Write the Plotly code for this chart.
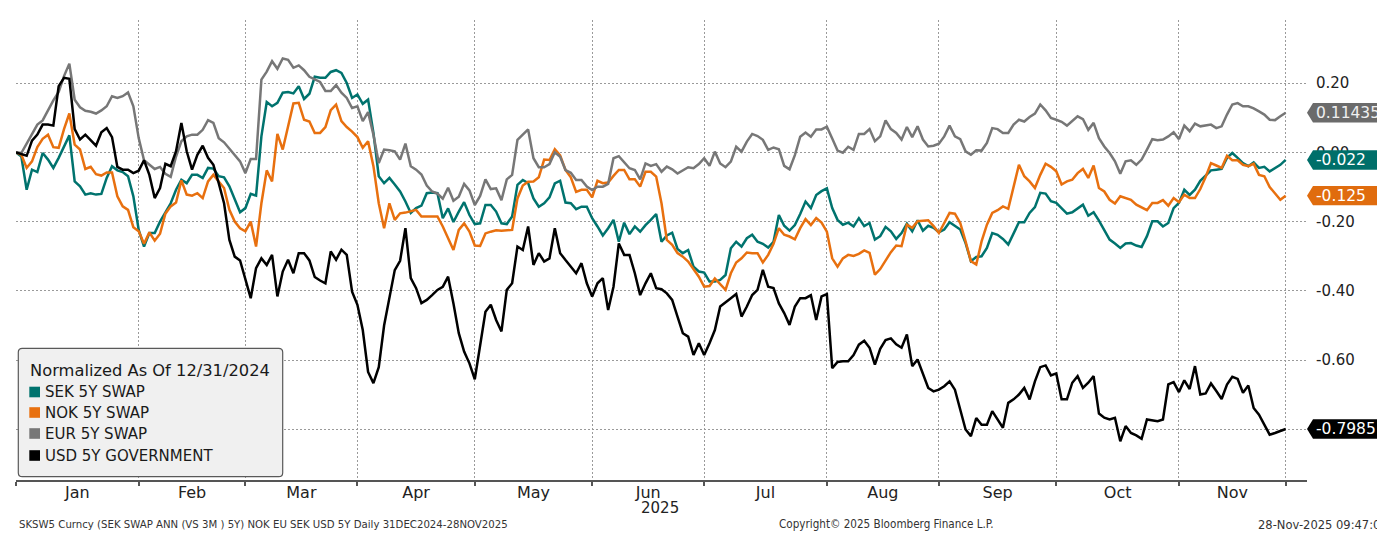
import numpy as np
import pandas as pd
import plotly.graph_objects as go

# ---------------- data (normalized change vs 31-Dec-2024, business days) ----------------
dates = pd.bdate_range("2024-12-31", "2025-11-28")

sek_5y_swap = [
    0.000, -0.012, -0.108, -0.050, -0.057, -0.002, -0.021, -0.045, -0.016, 0.017,
    0.049, -0.084, -0.098, -0.122, -0.118, -0.122, -0.120, -0.074, -0.040, -0.052,
    -0.057, -0.069, -0.127, -0.224, -0.272, -0.233, -0.233, -0.200, -0.175, -0.147,
    -0.108, -0.079, -0.089, -0.065, -0.065, -0.074, -0.045, -0.047, -0.069, -0.072,
    -0.098, -0.137, -0.173, -0.161, -0.120, -0.125, 0.046, 0.145, 0.133, 0.143,
    0.172, 0.174, 0.170, 0.191, 0.154, 0.169, 0.218, 0.215, 0.215, 0.232,
    0.237, 0.229, 0.200, 0.157, 0.167, 0.140, 0.152, 0.056, -0.069, -0.089,
    -0.074, -0.093, -0.113, -0.142, -0.175, -0.161, -0.154, -0.118, -0.116, -0.118,
    -0.190, -0.162, -0.201, -0.171, -0.144, -0.181, -0.207, -0.205, -0.152, -0.152,
    -0.171, -0.205, -0.207, -0.185, -0.094, -0.080, -0.089, -0.133, -0.157, -0.147,
    -0.130, -0.090, -0.082, -0.145, -0.147, -0.164, -0.157, -0.157, -0.190, -0.214,
    -0.240, -0.219, -0.195, -0.258, -0.203, -0.236, -0.214, -0.229, -0.210, -0.195,
    -0.178, -0.258, -0.240, -0.232, -0.279, -0.291, -0.282, -0.330, -0.344, -0.347,
    -0.373, -0.373, -0.368, -0.354, -0.277, -0.258, -0.272, -0.248, -0.238, -0.258,
    -0.264, -0.275, -0.258, -0.181, -0.212, -0.226, -0.210, -0.178, -0.142, -0.161,
    -0.123, -0.112, -0.104, -0.161, -0.195, -0.209, -0.203, -0.214, -0.190,
    -0.213, -0.204, -0.252, -0.242, -0.215, -0.228, -0.250, -0.233, -0.206, -0.228,
    -0.196, -0.226, -0.212, -0.218, -0.231, -0.223, -0.202, -0.213, -0.223, -0.262,
    -0.314, -0.302, -0.300, -0.276, -0.233, -0.238, -0.250, -0.266, -0.233, -0.202,
    -0.202, -0.175, -0.158, -0.117, -0.119, -0.141, -0.146, -0.161, -0.177, -0.173,
    -0.161, -0.151, -0.183, -0.173, -0.197, -0.223, -0.252, -0.263, -0.276, -0.263,
    -0.262, -0.269, -0.273, -0.242, -0.199, -0.199, -0.214, -0.204, -0.161, -0.146,
    -0.108, -0.123, -0.108, -0.082, -0.067, -0.052, -0.050, -0.048, -0.016, -0.002,
    -0.016, -0.031, -0.040, -0.029, -0.045, -0.042, -0.055, -0.045, -0.036, -0.022,
]

nok_5y_swap = [
    0.000, -0.007, -0.045, -0.026, 0.015, 0.039, 0.051, 0.015, 0.013, 0.067,
    0.112, 0.022, 0.008, -0.048, -0.042, -0.063, -0.067, -0.058, -0.058, -0.127,
    -0.156, -0.166, -0.216, -0.228, -0.264, -0.231, -0.255, -0.235, -0.177, -0.156,
    -0.145, -0.081, -0.122, -0.125, -0.118, -0.132, -0.084, -0.065, -0.084, -0.103,
    -0.166, -0.200, -0.219, -0.228, -0.200, -0.272, -0.147, -0.052, -0.084, 0.053,
    0.008, 0.073, 0.141, 0.143, 0.094, 0.089, 0.056, 0.056, 0.073, 0.122,
    0.138, 0.090, 0.073, 0.060, 0.044, 0.013, 0.032, -0.040, -0.147, -0.219,
    -0.147, -0.195, -0.176, -0.174, -0.171, -0.166, -0.185, -0.185, -0.185, -0.185,
    -0.214, -0.248, -0.282, -0.224, -0.205, -0.229, -0.269, -0.270, -0.234, -0.229,
    -0.225, -0.226, -0.225, -0.224, -0.133, -0.096, -0.085, -0.084, -0.072, -0.021,
    -0.022, 0.009, -0.009, -0.051, -0.072, -0.114, -0.108, -0.108, -0.130, -0.082,
    -0.089, -0.087, -0.068, -0.051, -0.051, -0.078, -0.078, -0.099, -0.056, -0.056,
    -0.070, -0.147, -0.253, -0.267, -0.291, -0.301, -0.315, -0.339, -0.359, -0.388,
    -0.386, -0.364, -0.380, -0.397, -0.349, -0.318, -0.306, -0.289, -0.291, -0.291,
    -0.318, -0.296, -0.264, -0.219, -0.238, -0.243, -0.251, -0.219, -0.193, -0.210,
    -0.190, -0.203, -0.229, -0.306, -0.330, -0.306, -0.296, -0.299, -0.293,
    -0.283, -0.290, -0.353, -0.337, -0.313, -0.288, -0.269, -0.271, -0.209, -0.218,
    -0.199, -0.197, -0.196, -0.213, -0.233, -0.204, -0.175, -0.177, -0.204, -0.257,
    -0.314, -0.324, -0.257, -0.209, -0.175, -0.167, -0.156, -0.163, -0.098, -0.036,
    -0.069, -0.084, -0.103, -0.065, -0.033, -0.042, -0.055, -0.093, -0.084, -0.079,
    -0.060, -0.048, -0.074, -0.038, -0.103, -0.113, -0.137, -0.148, -0.127, -0.132,
    -0.137, -0.151, -0.160, -0.167, -0.146, -0.146, -0.138, -0.154, -0.132, -0.144,
    -0.122, -0.132, -0.132, -0.106, -0.071, -0.031, -0.038, -0.045, -0.010, -0.023,
    -0.023, -0.036, -0.040, -0.033, -0.065, -0.069, -0.100, -0.117, -0.137, -0.125,
]

eur_5y_swap = [
    0.000, -0.002, 0.025, 0.054, 0.080, 0.092, 0.123, 0.150, 0.174, 0.220,
    0.256, 0.152, 0.130, 0.120, 0.117, 0.112, 0.121, 0.133, 0.162, 0.157,
    0.162, 0.173, 0.133, 0.041, -0.023, -0.035, -0.048, -0.042, -0.062, -0.071,
    -0.012, 0.032, 0.046, 0.051, 0.051, 0.065, 0.093, 0.085, 0.041, 0.029,
    0.010, -0.010, -0.026, -0.060, -0.019, -0.019, 0.210, 0.233, 0.263, 0.241,
    0.271, 0.267, 0.244, 0.251, 0.237, 0.218, 0.210, 0.203, 0.177, 0.177,
    0.194, 0.172, 0.157, 0.128, 0.133, 0.090, 0.116, 0.051, -0.031, 0.008,
    0.006, 0.003, -0.021, 0.025, -0.040, -0.050, -0.064, -0.096, -0.113, -0.119,
    -0.134, -0.102, -0.140, -0.128, -0.091, -0.110, -0.152, -0.126, -0.078, -0.106,
    -0.104, -0.138, -0.078, -0.065, 0.036, 0.052, 0.066, -0.017, -0.043, -0.043,
    -0.034, 0.000, -0.013, -0.051, -0.059, -0.080, -0.080, -0.099, -0.109, -0.099,
    -0.099, -0.091, -0.017, -0.011, -0.027, -0.046, -0.051, -0.078, -0.032, -0.039,
    -0.034, -0.056, -0.041, -0.049, -0.061, -0.051, -0.043, -0.046, -0.034, -0.017,
    -0.039, 0.002, -0.032, -0.043, -0.027, 0.016, 0.002, 0.031, 0.053, 0.047,
    0.036, 0.007, 0.014, 0.009, -0.039, -0.049, -0.008, 0.045, 0.057, 0.045,
    0.066, 0.066, 0.074, 0.040, 0.005, -0.001, 0.016, 0.007, 0.053,
    0.053, 0.067, 0.032, 0.046, 0.092, 0.067, 0.056, 0.037, 0.073, 0.044,
    0.075, 0.037, 0.017, 0.019, 0.025, 0.046, 0.077, 0.046, 0.038, 0.003,
    -0.007, 0.006, 0.005, 0.027, 0.070, 0.067, 0.056, 0.056, 0.080, 0.094,
    0.089, 0.102, 0.112, 0.138, 0.121, 0.099, 0.094, 0.088, 0.077, 0.092,
    0.104, 0.096, 0.065, 0.085, 0.041, 0.017, -0.002, -0.026, -0.062, -0.026,
    -0.023, -0.036, -0.021, 0.008, 0.038, 0.035, 0.037, 0.046, 0.058, 0.038,
    0.077, 0.061, 0.083, 0.075, 0.077, 0.080, 0.070, 0.075, 0.109, 0.138,
    0.142, 0.133, 0.133, 0.127, 0.118, 0.109, 0.094, 0.093, 0.104, 0.11435,
]

usd_5y_govt = [
    0.000, -0.005, -0.010, 0.034, 0.051, 0.080, 0.080, 0.077, 0.191, 0.215,
    0.212, 0.067, 0.037, 0.051, 0.034, 0.019, 0.058, 0.070, 0.044, -0.042,
    -0.050, -0.050, -0.060, -0.053, -0.023, -0.065, -0.132, -0.103, -0.033, -0.040,
    0.003, 0.085, 0.003, -0.050, -0.007, 0.019, -0.016, -0.036, -0.089, -0.147,
    -0.253, -0.301, -0.312, -0.368, -0.421, -0.334, -0.306, -0.325, -0.296, -0.416,
    -0.344, -0.310, -0.349, -0.291, -0.291, -0.312, -0.360, -0.370, -0.378, -0.286,
    -0.310, -0.281, -0.296, -0.402, -0.440, -0.513, -0.634, -0.666, -0.620, -0.500,
    -0.421, -0.340, -0.313, -0.219, -0.363, -0.392, -0.435, -0.426, -0.412, -0.397,
    -0.388, -0.359, -0.436, -0.522, -0.575, -0.609, -0.655, -0.551, -0.460, -0.440,
    -0.484, -0.517, -0.397, -0.378, -0.272, -0.282, -0.214, -0.325, -0.291, -0.315,
    -0.306, -0.219, -0.291, -0.311, -0.330, -0.349, -0.320, -0.378, -0.416, -0.378,
    -0.363, -0.455, -0.388, -0.263, -0.296, -0.296, -0.349, -0.412, -0.378, -0.349,
    -0.392, -0.395, -0.407, -0.426, -0.474, -0.522, -0.532, -0.585, -0.551, -0.585,
    -0.551, -0.513, -0.445, -0.434, -0.421, -0.409, -0.474, -0.445, -0.412, -0.397,
    -0.339, -0.388, -0.392, -0.436, -0.464, -0.498, -0.445, -0.421, -0.421, -0.412,
    -0.484, -0.416, -0.409, -0.623, -0.605, -0.603, -0.603, -0.585, -0.555,
    -0.544, -0.564, -0.613, -0.567, -0.542, -0.537, -0.554, -0.564, -0.526, -0.617,
    -0.598, -0.637, -0.680, -0.690, -0.685, -0.675, -0.661, -0.685, -0.740, -0.800,
    -0.819, -0.767, -0.786, -0.786, -0.747, -0.771, -0.795, -0.723, -0.713, -0.699,
    -0.680, -0.713, -0.661, -0.620, -0.615, -0.644, -0.638, -0.713, -0.713, -0.665,
    -0.646, -0.680, -0.665, -0.646, -0.754, -0.766, -0.771, -0.766, -0.834, -0.790,
    -0.810, -0.817, -0.827, -0.771, -0.773, -0.776, -0.771, -0.670, -0.663, -0.692,
    -0.658, -0.683, -0.617, -0.699, -0.696, -0.667, -0.689, -0.712, -0.670, -0.648,
    -0.654, -0.694, -0.673, -0.738, -0.757, -0.786, -0.815, -0.810, -0.805, -0.7985,
]

series_names = ["SEK 5Y SWAP", "NOK 5Y SWAP", "EUR 5Y SWAP", "USD 5Y GOVERNMENT"]
last_labels = ["-0.022", "-0.125", "0.11435", "-0.7985"]
month_names = ["Jan", "Feb", "Mar", "Apr", "May", "Jun", "Jul", "Aug", "Sep", "Oct", "Nov"]
year_label = "2025"
ytick_values = [-0.8, -0.6, -0.4, -0.2, 0.0, 0.2]
ytick_text = ["-0.80", "-0.60", "-0.40", "-0.20", "0.00", "0.20"]

# ---------------- styling ----------------
COLORS = ["#00736e", "#e8700f", "#777777", "#000000"]
BOX_COLORS = ["#006f6a", "#e06c0e", "#6b6b6b", "#000000"]
BOX_TEXT = ["#ffffff", "#ffffff", "#f0f0f0", "#ffffff"]
FONT = "DejaVu Sans"
NARROW = "DejaVu Sans Condensed, Liberation Sans Narrow, DejaVu Sans"
GRID = "#9a9a9a"

W, H = 1377, 544
L, R, T, B = 16, 70, 20, 64
PW, PH = W - L - R, H - T - B


def px2x(px):
    return (px - L) / PW


def py2y(py):
    return (H - B - py) / PH


x = np.arange(len(dates))
month_starts = pd.date_range("2025-01-01", "2025-12-01", freq="MS")
bounds = [int((dates < m).sum()) - 1 for m in month_starts]
mids = [(bounds[k] + bounds[k + 1]) / 2 for k in range(len(bounds) - 1)]

all_series = [sek_5y_swap, nok_5y_swap, eur_5y_swap, usd_5y_govt]

fig = go.Figure()
for name, vals, col in zip(series_names, all_series, COLORS):
    fig.add_trace(go.Scatter(x=x, y=vals, mode="lines", name=name,
                             line=dict(color=col, width=2.5)))

fig.update_layout(
    width=W, height=H,
    margin=dict(l=L, r=R, t=T, b=B, pad=0),
    paper_bgcolor="white", plot_bgcolor="white",
    showlegend=False,
)

fig.update_xaxes(
    range=[0, 242],
    tickmode="array", tickvals=mids, ticktext=month_names,
    ticks="", showgrid=False, zeroline=False, ticklabelstandoff=-3,
    showline=True, linecolor="#555555", linewidth=1.5,
    tickfont=dict(family=FONT, size=16, color="#222222"),
    minor=dict(tickmode="array", tickvals=bounds, ticks="outside", ticklen=4,
               tickcolor="#555555", tickwidth=1.5,
               showgrid=True, gridcolor=GRID, griddash="2px,2px", gridwidth=1),
)

fig.update_yaxes(
    range=[-0.9457, 0.3819], side="right",
    tickmode="array", tickvals=ytick_values, ticktext=ytick_text,
    showgrid=True, gridcolor=GRID, griddash="2px,2px", gridwidth=1,
    zeroline=False, ticks="", ticklabelstandoff=8,
    tickfont=dict(family=FONT, size=15, color="#222222"),
)

# year under June
fig.add_annotation(xref="x", yref="paper", x=mids[5], xshift=12, y=py2y(508),
                   xanchor="center", yanchor="middle", text=year_label, showarrow=False,
                   font=dict(family=FONT, size=15, color="#222222"))

# last-value tags on the right
for vals, txt, bc, tc in zip(all_series, last_labels, BOX_COLORS, BOX_TEXT):
    last = vals[-1]
    fig.add_shape(type="path", xref="paper", yref="y",
                  xsizemode="pixel", ysizemode="pixel", xanchor=1, yanchor=last,
                  path="M0,0 L6,9.7 L95,9.7 L95,-9.7 L6,-9.7 Z",
                  fillcolor=bc, line=dict(width=0), layer="above")
    fig.add_annotation(xref="paper", yref="y", x=1, y=last, xanchor="left", yanchor="middle",
                       xshift=7, text=txt, showarrow=False,
                       font=dict(family=FONT, size=15.5, color=tc))

# legend box (manual, rounded)
cx, cy, hw, hh, r = px2x(150.5), py2y(412.5), 132.2, 64.2, 4
legend_path = (f"M{-hw + r},{-hh} L{hw - r},{-hh} Q{hw},{-hh} {hw},{-hh + r} "
               f"L{hw},{hh - r} Q{hw},{hh} {hw - r},{hh} L{-hw + r},{hh} "
               f"Q{-hw},{hh} {-hw},{hh - r} L{-hw},{-hh + r} Q{-hw},{-hh} {-hw + r},{-hh} Z")
fig.add_shape(type="path", xref="paper", yref="paper", xsizemode="pixel", ysizemode="pixel",
              xanchor=cx, yanchor=cy, path=legend_path,
              fillcolor="#f0f0f0", line=dict(color="#595959", width=1.2), layer="above")
fig.add_annotation(xref="paper", yref="paper", x=px2x(28), y=py2y(370.5), xanchor="left",
                   yanchor="middle", text="Normalized As Of 12/31/2024", showarrow=False,
                   font=dict(family=FONT, size=16.3, color="#1a1a1a"))
item_y = [392, 412.5, 433.5, 455.5]
for name, col, iy in zip(series_names, COLORS, item_y):
    fig.add_shape(type="rect", xref="paper", yref="paper",
                  x0=px2x(29.3), x1=px2x(40), y0=py2y(iy + 5.3), y1=py2y(iy - 5.3),
                  fillcolor=col, line=dict(width=0), layer="above")
    fig.add_annotation(xref="paper", yref="paper", x=px2x(43), y=py2y(iy), xanchor="left",
                       yanchor="middle", text=name, showarrow=False,
                       font=dict(family=FONT, size=15, color="#1a1a1a"))

# footer
fy = py2y(524)
fig.add_annotation(xref="paper", yref="paper", x=px2x(16.5), y=fy, xanchor="left", yanchor="middle",
                   text="SKSW5 Curncy (SEK SWAP ANN (VS 3M ) 5Y) NOK EU SEK USD 5Y Daily 31DEC2024-28NOV2025",
                   showarrow=False, font=dict(family=NARROW, size=11.3, color="#333333"))
fig.add_annotation(xref="paper", yref="paper", x=px2x(776.5), y=fy, xanchor="left", yanchor="middle",
                   text="Copyright© 2025 Bloomberg Finance L.P.",
                   showarrow=False, font=dict(family=NARROW, size=11.6, color="#333333"))
fig.add_annotation(xref="paper", yref="paper", x=px2x(1256), y=fy, xanchor="left", yanchor="middle",
                   text="28-Nov-2025 09:47:03",
                   showarrow=False, font=dict(family=NARROW, size=12.8, color="#333333"))

fig.write_html("out.html")
